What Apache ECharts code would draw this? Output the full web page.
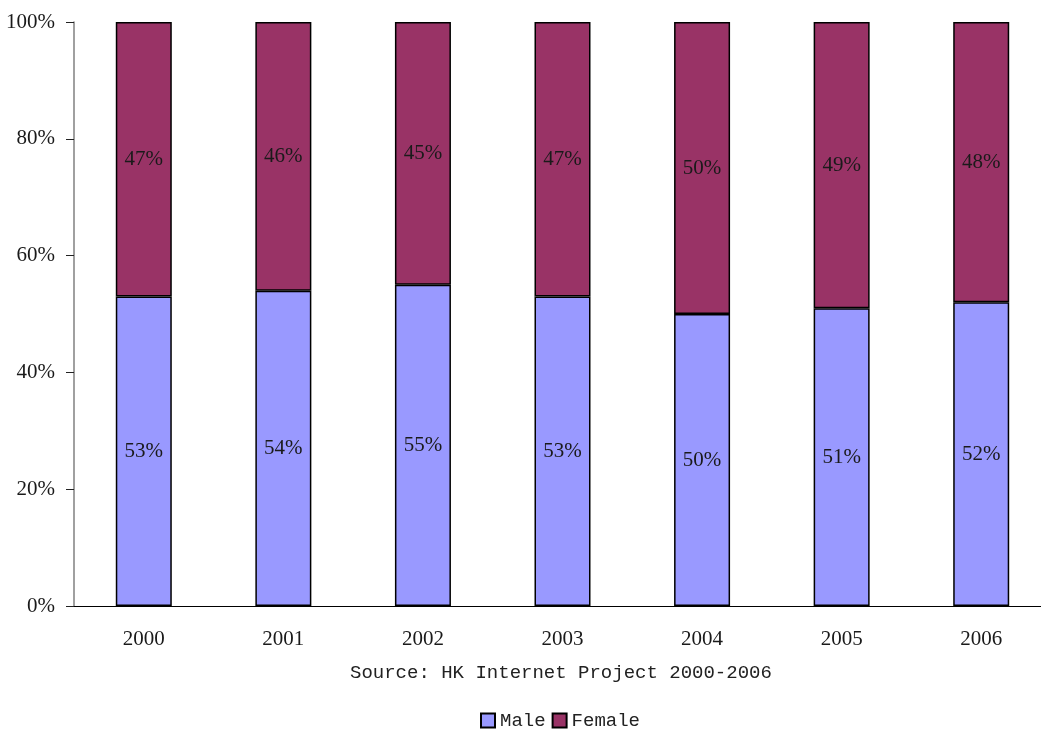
<!DOCTYPE html>
<html>
<head>
<meta charset="utf-8">
<script src="https://cdn.jsdelivr.net/npm/echarts@6/dist/echarts.min.js"></script>
<style>html,body{margin:0;padding:0;background:#fff;}#c{width:1041px;height:731px;}</style>
</head>
<body>
<div id="c"></div>
<script>
var categories = ['2000', '2001', '2002', '2003', '2004', '2005', '2006'];
var maleValues = [53, 54, 55, 53, 50, 51, 52];
var femaleValues = [47, 46, 45, 47, 50, 49, 48];
var yTicks = [0, 20, 40, 60, 80, 100];
var sourceText = 'Source: HK Internet Project 2000-2006';

var serif = '"Liberation Serif", "DejaVu Serif", serif';
var mono = '"Liberation Mono", "DejaVu Sans Mono", monospace';

var chart = echarts.init(document.getElementById('c'), null, {renderer: 'canvas'});
chart.setOption({
  animation: false,
  backgroundColor: '#ffffff',
  title: {
    text: sourceText,
    left: 350,
    top: 663,
    padding: 0,
    textStyle: {fontFamily: mono, fontSize: 19, fontWeight: 'normal', color: '#222'}
  },
  legend: {
    data: ['Male', 'Female'],
    left: 480,
    top: 711,
    itemWidth: 14, itemHeight: 14, itemGap: 6,
    icon: 'rect',
    textStyle: {fontFamily: mono, fontSize: 19, color: '#222'},
    padding: 0
  },
  grid: {left: 74, width: 977, top: 22, height: 584, containLabel: false, outerBoundsMode: 'none'},
  xAxis: {
    type: 'category',
    data: categories,
    axisLine: {lineStyle: {color: '#000', width: 1.2}},
    axisTick: {inside: true, length: 8, lineStyle: {color: '#000'}},
    axisLabel: {fontFamily: serif, fontSize: 21, color: '#1a1a1a', margin: 23}
  },
  yAxis: {
    type: 'value',
    min: 0, max: 100, interval: 20,
    splitLine: {show: false},
    axisLine: {show: true, lineStyle: {color: '#808080', width: 1.5}},
    axisTick: {show: true, length: 8, lineStyle: {color: '#222'}},
    axisLabel: {fontFamily: serif, fontSize: 21, color: '#1a1a1a', margin: 19,
      formatter: function (v) { return yTicks.indexOf(v) >= 0 ? v + '%' : ''; }}
  },
  series: [
    {
      name: 'Male', type: 'bar', stack: 'g', data: maleValues, barWidth: 56,
      itemStyle: {color: '#9999FF', borderColor: '#000', borderWidth: 1.5},
      label: {show: true, position: 'inside', formatter: '{c}%', fontFamily: serif, fontSize: 21, color: '#1a1a1a'}
    },
    {
      name: 'Female', type: 'bar', stack: 'g', data: femaleValues, barWidth: 56,
      itemStyle: {color: '#993366', borderColor: '#000', borderWidth: 1.5},
      label: {show: true, position: 'inside', formatter: '{c}%', fontFamily: serif, fontSize: 21, color: '#1a1a1a'}
    }
  ]
});
</script>
</body>
</html>
